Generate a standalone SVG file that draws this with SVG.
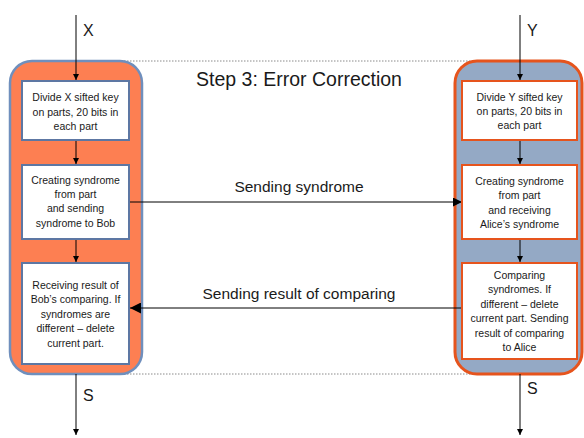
<svg xmlns="http://www.w3.org/2000/svg" width="584" height="438" viewBox="0 0 584 438">
  <defs>
    <marker id="tipSmall" viewBox="0 0 10 10" refX="10" refY="5" markerWidth="6" markerHeight="8" markerUnits="userSpaceOnUse" orient="auto">
      <path d="M0,0 L10,5 L0,10 z" fill="#000"/>
    </marker>
    <marker id="tipMid" viewBox="0 0 10 10" refX="10" refY="5" markerWidth="12" markerHeight="9" markerUnits="userSpaceOnUse" orient="auto">
      <path d="M0,0 L10,5 L0,10 z" fill="#000"/>
    </marker>
    <marker id="tipBig" viewBox="0 0 10 10" refX="10" refY="5" markerWidth="17" markerHeight="11" markerUnits="userSpaceOnUse" orient="auto">
      <path d="M0,0 L10,5 L0,10 z" fill="#000"/>
    </marker>
  </defs>
  <style>
    text { font-family: "Liberation Sans", Arial, sans-serif; fill: #1a1a1a; }
    .box { font-size: 10.5px; text-anchor: middle; }
    .lbl { font-size: 16px; }
    .msg { font-size: 15.5px; text-anchor: middle; }
    .title { font-size: 19.5px; text-anchor: middle; }
    .frame { fill: none; stroke: #8a8a8a; stroke-width: 1; stroke-dasharray: 1.5 1.5; }
    .aliceLane { fill: #fd7f52; stroke: #6f8fbd; stroke-width: 2.5; }
    .bobLane { fill: #94a9c5; stroke: #e6541d; stroke-width: 3; }
    .aliceBox { fill: #fff; stroke: #5d77a3; stroke-width: 2; }
    .bobBox { fill: #fff; stroke: #e6541d; stroke-width: 2; }
    .flow { stroke: #000; stroke-width: 1; fill: none; }
  </style>

  <!-- dotted frame between the two lanes -->
  <line class="frame" x1="76" y1="61" x2="520" y2="61"/>
  <line class="frame" x1="76" y1="374" x2="520" y2="374"/>

  <text class="title" x="299" y="86">Step 3: Error Correction</text>

  <!-- Alice lane -->
  <g id="alice-lane">
    <rect class="aliceLane" x="10" y="61" width="132" height="313" rx="22"/>
  </g>
  <!-- Bob lane -->
  <g id="bob-lane">
    <rect class="bobLane" x="455" y="61" width="127" height="313" rx="22"/>
  </g>

  <g id="connectors">
    <!-- Alice vertical flow -->
    <line class="flow" x1="76" y1="15" x2="76" y2="80" marker-end="url(#tipSmall)"/>
    <line class="flow" x1="76" y1="141" x2="76" y2="164" marker-end="url(#tipSmall)"/>
    <line class="flow" x1="76" y1="239" x2="76" y2="262" marker-end="url(#tipSmall)"/>
    <line class="flow" x1="76" y1="374" x2="76" y2="435" marker-end="url(#tipSmall)"/>
    <!-- Bob vertical flow -->
    <line class="flow" x1="520" y1="15" x2="520" y2="80" marker-end="url(#tipSmall)"/>
    <line class="flow" x1="520" y1="141" x2="520" y2="164" marker-end="url(#tipSmall)"/>
    <line class="flow" x1="520" y1="239" x2="520" y2="262" marker-end="url(#tipSmall)"/>
    <line class="flow" x1="520" y1="374" x2="520" y2="435" marker-end="url(#tipSmall)"/>
    <!-- messages between lanes -->
    <line class="flow" x1="130" y1="202" x2="462" y2="202" marker-end="url(#tipMid)"/>
    <line class="flow" x1="462" y1="308" x2="130" y2="308" marker-end="url(#tipBig)"/>
  </g>

  <text class="lbl" x="83" y="36">X</text>
  <text class="lbl" x="527" y="36">Y</text>
  <text class="lbl" x="83" y="401">S</text>
  <text class="lbl" x="527" y="394">S</text>

  <text class="msg" x="299" y="192">Sending syndrome</text>
  <text class="msg" x="299" y="299">Sending result of comparing</text>

  <!-- Alice steps -->
  <g id="alice-divide">
    <rect class="aliceBox" x="22" y="81" width="107" height="59"/>
    <text class="box" x="75.5" y="101">Divide X sifted key</text>
    <text class="box" x="75.5" y="115.5">on parts, 20 bits in</text>
    <text class="box" x="75.5" y="130">each part</text>
  </g>
  <g id="alice-syndrome">
    <rect class="aliceBox" x="22" y="165" width="107" height="74"/>
    <text class="box" x="75.5" y="183.5">Creating syndrome</text>
    <text class="box" x="75.5" y="197.8">from part</text>
    <text class="box" x="75.5" y="212.2">and sending</text>
    <text class="box" x="75.5" y="226.5">syndrome to Bob</text>
  </g>
  <g id="alice-result">
    <rect class="aliceBox" x="22" y="263" width="107" height="101"/>
    <text class="box" x="75.5" y="289">Receiving result of</text>
    <text class="box" x="75.5" y="303.4">Bob’s comparing. If</text>
    <text class="box" x="75.5" y="317.8">syndromes are</text>
    <text class="box" x="75.5" y="332.2">different – delete</text>
    <text class="box" x="75.5" y="346.6">current part.</text>
  </g>

  <!-- Bob steps -->
  <g id="bob-divide">
    <rect class="bobBox" x="462" y="81" width="115" height="59"/>
    <text class="box" x="519.5" y="100.7">Divide Y sifted key</text>
    <text class="box" x="519.5" y="115">on parts, 20 bits in</text>
    <text class="box" x="519.5" y="129">each part</text>
  </g>
  <g id="bob-syndrome">
    <rect class="bobBox" x="462" y="165" width="115" height="74"/>
    <text class="box" x="519.5" y="185">Creating syndrome</text>
    <text class="box" x="519.5" y="199.2">from part</text>
    <text class="box" x="519.5" y="213.6">and receiving</text>
    <text class="box" x="519.5" y="228">Alice’s syndrome</text>
  </g>
  <g id="bob-compare">
    <rect class="bobBox" x="462" y="263" width="115" height="96"/>
    <text class="box" x="519.5" y="279">Comparing</text>
    <text class="box" x="519.5" y="293.3">syndromes. If</text>
    <text class="box" x="519.5" y="307.7">different – delete</text>
    <text class="box" x="519.5" y="322">current part. Sending</text>
    <text class="box" x="519.5" y="336.5">result of comparing</text>
    <text class="box" x="519.5" y="350.7">to Alice</text>
  </g>
</svg>
